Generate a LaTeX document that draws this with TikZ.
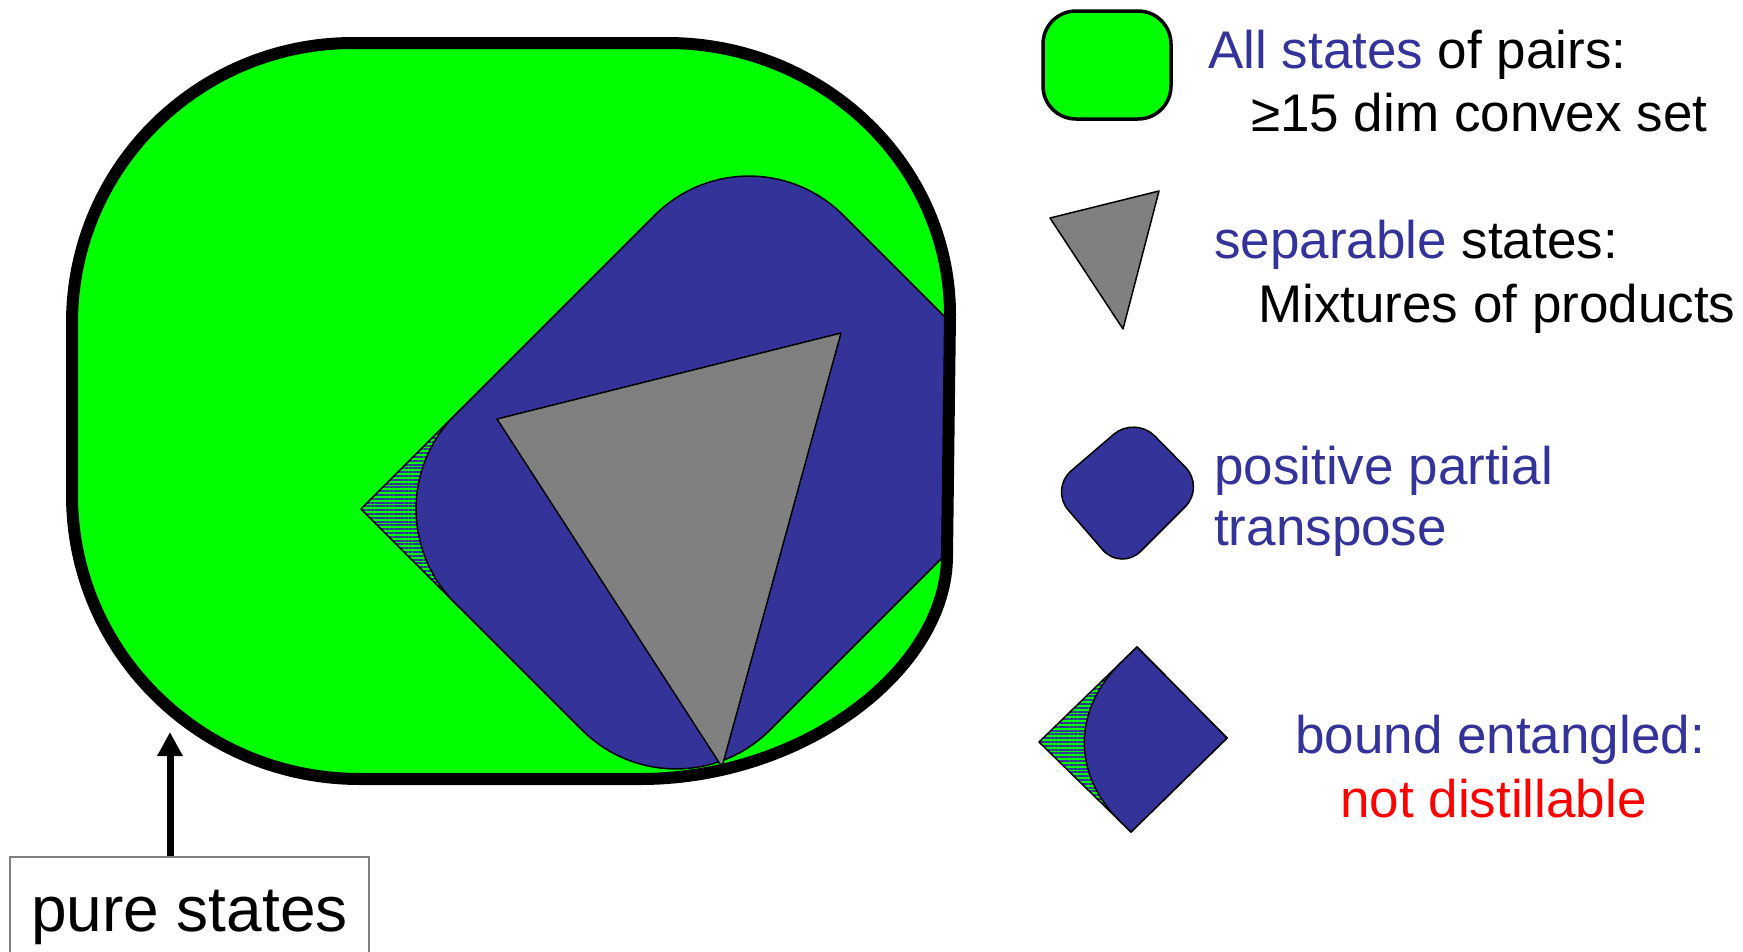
\documentclass[tikz,border=0pt]{standalone}
\usepackage{fontspec}
\setmainfont{Liberation Sans}
\usetikzlibrary{calc,patterns.meta,arrows.meta}

\definecolor{allgreen}{HTML}{00FF00}
\definecolor{pptblue}{HTML}{333399}
\definecolor{sepgrey}{HTML}{808080}

\newcommand{\allstates}{(353,43) -- (667,43) .. controls (823,43) and (950,165) .. (950,315) -- (947,556) .. controls (947,669) and (804,779) .. (640,779) -- (360,779) .. controls (201,779) and (72,652) .. (72,495) -- (72,323) .. controls (72,168) and (198,43) .. (353,43) -- cycle}

\begin{document}
\begin{tikzpicture}[x=1pt,y=-1pt,
  thinline/.style={draw=black,line width=1.5pt,line join=round},
  hatch/.style={preaction={fill=allgreen},pattern={Lines[angle=0,distance=3.8pt,line width=1.9pt]},pattern color=pptblue},
  legendtext/.style={anchor=base west,inner sep=0pt,font=\fontsize{53}{62}\selectfont}]
\useasboundingbox (0,0) rectangle (1743,951);

% all states, with ppt and separable inside
\fill[allgreen] \allstates;
\begin{scope}
\clip \allstates;
\coordinate (ppl) at (361,509);
\coordinate (ppt) at (749,121);
\coordinate (ppr) at (1064,436);
\coordinate (ppb) at (676,824);
\path[hatch] ($(ppl)!140pt!(ppt)$) -- (ppl) -- ($(ppl)!140pt!(ppb)$) -- cycle;
\draw[thinline] ($(ppl)!140pt!(ppt)$) -- (ppl) -- ($(ppl)!140pt!(ppb)$);
\filldraw[thinline,fill=pptblue,rounded corners=133pt] (ppl) -- (ppt) -- (ppr) -- (ppb) -- cycle;
\filldraw[thinline,fill=sepgrey] (497,419) -- (841,333) -- (722,767) -- cycle;
\end{scope}
\draw[line width=12pt,line join=round] \allstates;

% legend
\filldraw[fill=allgreen,line width=3.5pt,rounded corners=33pt] (1043,11) rectangle (1171,119);
\filldraw[thinline,fill=sepgrey] (1050,218) -- (1159,191) -- (1123,329) -- cycle;
\filldraw[thinline,fill=pptblue,rounded corners=28pt] (1050,489) -- (1135,416) -- (1205,487) -- (1121,571) -- cycle;
\coordinate (bel) at (1039,742);
\coordinate (bet) at (1137,647);
\coordinate (ber) at (1227,738);
\coordinate (beb) at (1131,832);
\path[hatch] (bel) -- (bet) -- (ber) -- (beb) -- cycle;
\draw[thinline] (bel) -- (bet) -- (ber) -- (beb) -- cycle;
\filldraw[thinline,fill=pptblue] ($(bel)!0.84!(bet)$) -- (bet) -- (ber) -- (beb) -- ($(bel)!0.88!(beb)$)
  .. controls ($(bel)!0.36!(beb)$) and ($(bel)!0.34!(bet)$) .. ($(bel)!0.84!(bet)$) -- cycle;

\node[legendtext] (allt) at (1208,68) {\textcolor{pptblue}{All states} of pairs:};
\node[legendtext] (allt2) at (1251,131) {≥15 dim convex set};
\node[legendtext] (sept) at (1214,258) {\textcolor{pptblue}{separable} states:};
\node[legendtext] (sept2) at (1258,322) {Mixtures of products};
\node[legendtext,text=pptblue] (pptt) at (1214,484) {positive partial};
\node[legendtext,text=pptblue] (pptt2) at (1214,545) {transpose};
\node[legendtext,text=pptblue] (bet1) at (1295,753) {bound entangled:};
\node[legendtext,text=red] (bet2) at (1340,817) {not distillable};

% pure states
\node[draw=sepgrey,line width=2pt,anchor=north west,minimum width=359pt,minimum height=115pt,
  text height=46pt,text depth=13pt,inner sep=0pt,font=\fontsize{64}{74}\selectfont] (pure) at (9,856) {pure states};
\coordinate (puretip) at (170,732);
\draw[line width=7pt,-{Triangle[width=24pt,length=24pt]}] (pure.north -| puretip) -- (puretip);
\end{tikzpicture}
\end{document}
